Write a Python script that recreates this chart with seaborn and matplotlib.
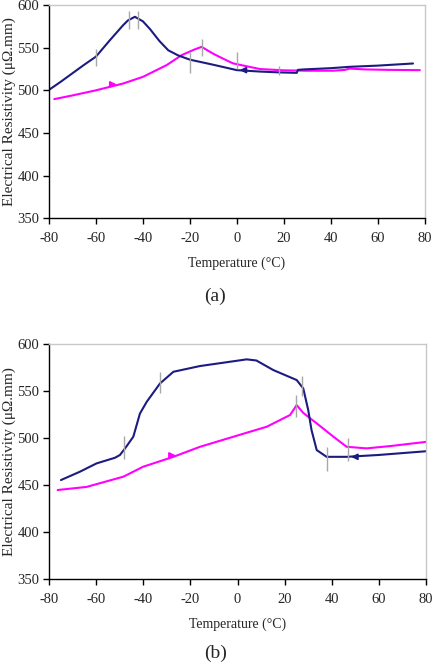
import pandas as pd
import matplotlib
matplotlib.use("Agg")
import matplotlib.pyplot as plt
import seaborn as sns

sns.set_theme(style="white")
plt.rcParams["font.family"] = ["Liberation Serif", "DejaVu Serif"]
plt.rcParams["axes.unicode_minus"] = False

# (a) cooling curve (blue) and heating curve (pink)
a_cool_t = [-80, -75, -70, -65, -60, -54, -48.4, -46.4, -43.4, -40, -37, -33, -29.2,
            -25, -20, -10, 0, 10, 18.6, 25.5, 26, 28.2, 40, 48, 60, 75]
a_cool_r = [500.5, 510, 520, 530, 539.5, 559, 576.5, 582, 586.3, 581, 572, 558, 547,
            541, 536, 530, 523.7, 522, 521, 520.5, 524, 524.5, 526, 527.6, 529, 531.5]
a_heat_t = [-77.7, -70, -60, -48.4, -39.9, -29.9, -23.5, -18, -15, -10.1, -5, -1.6,
            9.8, 19.7, 30, 41, 46, 48, 55, 65, 77.9]
a_heat_r = [489.7, 494, 500, 508, 515.9, 529.6, 541.3, 548, 551, 543, 536, 531.6,
            525, 523.5, 523, 523, 524, 525.5, 524.5, 524, 523.7]

# (b)
b_cool_t = [-74.9, -67, -59.8, -52, -49.9, -47.7, -44.2, -41.4, -38.5, -32.9, -27.2,
            -15.9, -5, 3.9, 8, 15.2, 25.1, 27.9, 30, 31.4, 33.6, 37.8, 46.3, 60, 80.3]
b_cool_r = [455.3, 464, 473, 479, 481.9, 489, 501.4, 526, 538.6, 558, 570.5,
            576.6, 580.5, 583.7, 582.5, 572.3, 561.7, 552.8, 529.8, 508.5, 487.2, 480, 480, 482, 486]
b_heat_t = [-76.3, -64, -48.4, -40, -27.2, -15.9, 5.3, 12.4, 22.3, 25.1, 27.9, 33.6,
            40.7, 46.3, 54.8, 65, 80.3]
b_heat_r = [444.7, 448, 458.9, 469.5, 480, 490.7, 506.7, 512, 524.5, 535, 526.7, 515.6,
            501.4, 490.7, 489, 491.5, 496]

# transformation markers (temperature, low, high)
a_marks = [(-60, 528, 548), (-46, 572, 593), (-42, 572, 593), (-20, 520, 545),
           (-15, 540, 560), (0, 525, 545), (18, 518, 528)]
b_marks = [(-48, 478, 502), (-33, 548, 570), (25, 522, 546), (27.5, 545, 566),
           (38, 465, 490), (47, 476, 500)]

# arrow heads (x, y, direction)
a_arrows = [(0, 523.7, -1), (-50, 507, 1)]
b_arrows = [(-25, 481.5, 1), (47, 480, -1)]

navy = "#1c1c80"
pink = "#ff00ff"
xticks = [-80, -60, -40, -20, 0, 20, 40, 60, 80]
yticks = [350, 400, 450, 500, 550, 600]

fig = plt.figure(figsize=(4.33, 6.67), dpi=100)
ax_a = fig.add_axes([0.113, 0.673, 0.868, 0.3193])
ax_b = fig.add_axes([0.113, 0.1319, 0.871, 0.3523])

panels = [
    (ax_a, a_cool_t, a_cool_r, a_heat_t, a_heat_r, a_marks, a_arrows, "(a)", 0.556),
    (ax_b, b_cool_t, b_cool_r, b_heat_t, b_heat_r, b_marks, b_arrows, "(b)", 0.021),
]

for ax, ct, cr, ht, hr, marks, arrows, tag, ty in panels:
    cool = pd.DataFrame({"T": ct, "R": cr})
    heat = pd.DataFrame({"T": ht, "R": hr})
    sns.lineplot(data=heat, x="T", y="R", ax=ax, color=pink, lw=1.5, estimator=None)
    sns.lineplot(data=cool, x="T", y="R", ax=ax, color=navy, lw=1.5, estimator=None)
    for t, lo, hi in marks:
        ax.vlines(t, lo, hi, color="#a8a8a8", lw=1)
    for x, y, d in arrows:
        col = navy if d < 0 else pink
        ax.annotate("", xy=(x, y), xytext=(x - d * 4, y),
                    arrowprops=dict(arrowstyle="-|>", color=col, lw=1.2,
                                    mutation_scale=9))
    ax.set_xlim(-80, 80)
    ax.set_ylim(350, 600)
    ax.set_xticks(xticks)
    ax.set_yticks(yticks)
    ax.tick_params(axis="both", labelsize=10.5, length=4, width=1, color="black",
                   direction="out", bottom=True, left=True)
    ax.tick_params(axis="x", pad=6)
    ax.tick_params(axis="y", pad=3)
    ax.spines["left"].set_color("black")
    ax.spines["bottom"].set_color("black")
    ax.spines["top"].set_color("#c8c8c8")
    ax.spines["right"].set_color("#c8c8c8")
    for s in ax.spines.values():
        s.set_linewidth(1)
    ax.set_xlabel("Temperature (°C)", fontsize=10, labelpad=8)
    ax.set_ylabel("Electrical Resistivity (μΩ.mm)", fontsize=11, va="center")
    ax.yaxis.set_label_coords(-0.105, 0.5)
    fig.text(0.497, ty, tag, ha="center", va="center", fontsize=14)

plt.savefig("out.png", dpi=100)
